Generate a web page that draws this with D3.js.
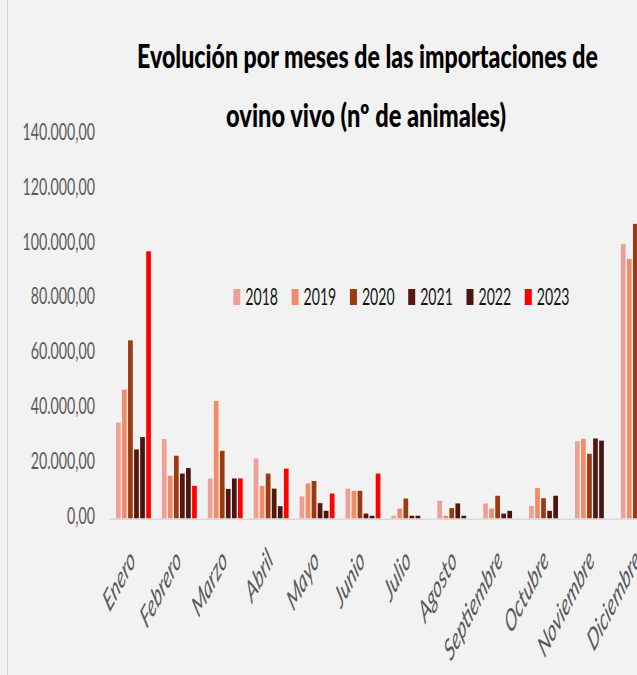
<!DOCTYPE html>
<html>
<head>
<meta charset="utf-8">
<script src="https://cdn.jsdelivr.net/npm/d3@7"></script>
<style>
  html, body { margin: 0; padding: 0; background: #f2f2f2; overflow: hidden; }
  text { font-family: Lato, "Open Sans", "Liberation Sans", sans-serif; }
</style>
</head>
<body>
<svg id="chart"></svg>
<script>
// months and years
const months = ["Enero", "Febrero", "Marzo", "Abril", "Mayo", "Junio", "Julio", "Agosto", "Septiembre", "Octubre", "Noviembre", "Diciembre"];
const years = ["2018", "2019", "2020", "2021", "2022", "2023"];

// nº de animales (null = no bar / off the picture)
const v2018 = [35000, 29000, 14600, 21900, 8100, 10900, 1000, 6500, 5500, 4600, 28200, 100200];
const v2019 = [47000, 15600, 42900, 11900, 12800, 10100, 3600, 1000, 3600, 11100, 29100, 94700];
const v2020 = [65000, 22900, 24700, 16400, 13700, 10100, 7300, 3800, 8300, 7400, 23600, 107500];
const v2021 = [25200, 16400, 10800, 10900, 5600, 1800, 1000, 5500, 1800, 2800, 29200, null];
const v2022 = [29700, 18400, 14600, 4500, 2800, 1000, 1000, 1000, 2800, 8300, 28400, null];
const v2023 = [97500, 11900, 14600, 18200, 9100, 16400, null, null, null, null, null, null];

const yTicks = [0, 20000, 40000, 60000, 80000, 100000, 120000, 140000];
const colors = ["#EEA097", "#F28C66", "#9E3A12", "#54180F", "#4A1510", "#FF0000"];

const W = 637, H = 675;
const K = 1.6; // the picture is stretched vertically, so is the text

const series = [v2018, v2019, v2020, v2021, v2022, v2023];
const es = d3.formatLocale({ decimal: ",", thousands: ".", grouping: [3], currency: ["", " €"] });
const fmt = es.format(",.2f");

const svg = d3.select("#chart").attr("width", W).attr("height", H);
svg.append("rect").attr("width", W).attr("height", H).attr("fill", "#f2f2f2");
svg.append("line").attr("x1", 7.5).attr("x2", 7.5).attr("y1", 0).attr("y2", H)
  .attr("stroke", "#d4d4d4").attr("stroke-width", 1);

const x0 = d3.scaleBand().domain(months).range([110.5, 661.3]).paddingInner(0.21).paddingOuter(0.105);
const x1 = d3.scaleBand().domain(years).range([0, x0.bandwidth()]).paddingInner(0.22).paddingOuter(0.11);
const y = d3.scaleLinear().domain([0, 140000]).range([518.5, 134.8]);

// title
const title = svg.append("g").attr("fill", "#000").attr("font-weight", 900);
title.append("text").attr("transform", `translate(367.5,68) scale(1,${K})`)
  .attr("text-anchor", "middle").attr("font-size", 20)
  .attr("textLength", 461).attr("lengthAdjust", "spacingAndGlyphs")
  .text("Evolución por meses de las importaciones de");
title.append("text").attr("transform", `translate(366,126.5) scale(1,${K})`)
  .attr("text-anchor", "middle").attr("font-size", 20)
  .attr("textLength", 280).attr("lengthAdjust", "spacingAndGlyphs")
  .text("ovino vivo (nº de animales)");

// y axis labels
const yAxis = svg.append("g").attr("transform", "translate(95,0)")
  .call(d3.axisLeft(y).tickValues(yTicks).tickFormat(fmt).tickSize(0).tickPadding(0));
yAxis.select(".domain").remove();
yAxis.selectAll("text")
  .attr("x", 0).attr("dy", null).attr("y", 2.9)
  .attr("transform", `scale(1,${K})`)
  .attr("font-size", 14.2).attr("fill", "#595959");

// bars
const groups = svg.append("g").selectAll("g").data(months).join("g")
  .attr("transform", m => `translate(${x0(m)},0)`);
groups.selectAll("rect")
  .data((m, i) => years.map((yr, j) => ({ yr, j, value: series[j][i] })).filter(d => d.value != null))
  .join("rect")
  .attr("x", d => x1(d.yr))
  .attr("width", x1.bandwidth())
  .attr("y", d => y(d.value))
  .attr("height", d => y(0) - y(d.value))
  .attr("fill", d => colors[d.j]);

// x axis
svg.append("line").attr("x1", 109).attr("x2", W).attr("y1", 519.3).attr("y2", 519.3)
  .attr("stroke", "#d9d9d9").attr("stroke-width", 1.5);
const xAxis = svg.append("g").attr("transform", "translate(0,519)")
  .call(d3.axisBottom(x0).tickSize(0).tickPadding(0));
xAxis.select(".domain").remove();
xAxis.selectAll("text")
  .attr("y", 0).attr("dy", null)
  .attr("text-anchor", "end")
  .attr("transform", "translate(3,43) scale(1,1.9) rotate(-45)")
  .attr("font-size", 16).attr("font-style", "italic").attr("fill", "#595959");

// legend
const legend = svg.append("g").selectAll("g").data(years).join("g")
  .attr("transform", (d, i) => `translate(${233.3 + i * 58.3},0)`);
legend.append("rect").attr("x", 0).attr("y", 289).attr("width", 7).attr("height", 16)
  .attr("fill", (d, i) => colors[i]);
legend.append("text").attr("transform", `translate(12,305) scale(1,${K})`)
  .attr("font-size", 14.1).attr("fill", "#141414")
  .text(d => d);
</script>
</body>
</html>
